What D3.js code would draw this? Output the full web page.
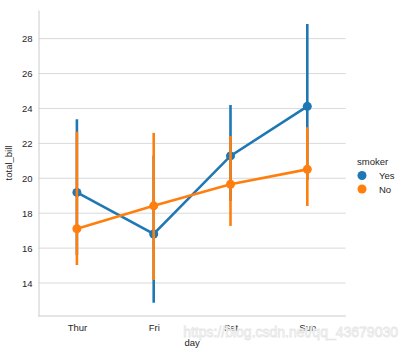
<!DOCTYPE html>
<html>
<head>
<meta charset="utf-8">
<script src="https://cdn.jsdelivr.net/npm/d3@7"></script>
<style>
body { margin: 0; background: #fff; }
text { font-family: "Liberation Sans", Arial, sans-serif; fill: #262626; }
</style>
</head>
<body>
<svg id="chart" width="405" height="352"></svg>
<script>
// data
var days = ["Thur", "Fri", "Sat", "Sun"];
var smokers = ["Yes", "No"];
var meanYes = [19.19, 16.81, 21.28, 24.12];
var meanNo = [17.11, 18.42, 19.66, 20.51];
var lowYes = [15.6, 12.87, 18.7, 19.9];
var highYes = [23.38, 21.3, 24.2, 28.84];
var lowNo = [15.03, 14.17, 17.27, 18.41];
var highNo = [22.67, 22.6, 22.42, 22.92];
var yTicks = [14, 16, 18, 20, 22, 24, 26, 28];

var colors = ["#1f77b4", "#ff7f0e"];
var series = [
    {name: "Yes", mean: meanYes, low: lowYes, high: highYes},
    {name: "No", mean: meanNo, low: lowNo, high: highNo}
];

var svg = d3.select("#chart");
var area = {left: 38.5, right: 345.7, top: 10, bottom: 316};

var xScale = d3.scalePoint()
    .domain(days)
    .range([area.left, area.right])
    .padding(0.5);

var yScale = d3.scaleLinear()
    .domain([12.11, 29.64])
    .range([area.bottom, area.top]);

// grid lines
svg.append("g")
    .selectAll("line")
    .data(yTicks)
    .enter()
    .append("line")
    .attr("x1", area.left)
    .attr("x2", area.right)
    .attr("y1", function (d) { return yScale(d); })
    .attr("y2", function (d) { return yScale(d); })
    .attr("stroke", "#d9d9d9")
    .attr("stroke-width", 1);

// axes
var yAxis = svg.append("g")
    .attr("transform", "translate(" + area.left + ",0)")
    .call(d3.axisLeft(yScale).tickValues(yTicks).tickSize(0).tickPadding(6));
yAxis.select(".domain").attr("stroke", "#cccccc");
yAxis.selectAll("text").style("font-size", "9.5px").attr("fill", "#262626");

var xAxis = svg.append("g")
    .attr("transform", "translate(0," + area.bottom + ")")
    .call(d3.axisBottom(xScale).tickSize(0).tickPadding(8));
xAxis.select(".domain").attr("stroke", "#cccccc").attr("d", "M" + area.left + ",0H" + area.right);
xAxis.selectAll("text").style("font-size", "9.5px").attr("fill", "#262626");

svg.append("text")
    .attr("transform", "translate(12," + ((area.top + area.bottom) / 2) + ") rotate(-90)")
    .attr("text-anchor", "middle")
    .style("font-size", "9.5px")
    .text("total_bill");

svg.append("text")
    .attr("x", (area.left + area.right) / 2)
    .attr("y", 346)
    .attr("text-anchor", "middle")
    .style("font-size", "9.5px")
    .text("day");

// series
var line = d3.line()
    .x(function (d, i) { return xScale(days[i]); })
    .y(function (d) { return yScale(d); });

series.forEach(function (s, k) {
    var g = svg.append("g");
    g.append("path")
        .attr("d", line(s.mean))
        .attr("fill", "none")
        .attr("stroke", colors[k])
        .attr("stroke-width", 2.6);
    g.selectAll("line.ci")
        .data(days)
        .enter()
        .append("line")
        .attr("class", "ci")
        .attr("x1", function (d) { return xScale(d); })
        .attr("x2", function (d) { return xScale(d); })
        .attr("y1", function (d, i) { return yScale(s.low[i]); })
        .attr("y2", function (d, i) { return yScale(s.high[i]); })
        .attr("stroke", colors[k])
        .attr("stroke-width", 2.6);
    g.selectAll("circle")
        .data(s.mean)
        .enter()
        .append("circle")
        .attr("cx", function (d, i) { return xScale(days[i]); })
        .attr("cy", function (d) { return yScale(d); })
        .attr("r", 4.5)
        .attr("fill", colors[k]);
});

// legend
var legend = svg.append("g").attr("transform", "translate(357,0)");
legend.append("text")
    .attr("x", 0)
    .attr("y", 165)
    .style("font-size", "9.5px")
    .text("smoker");
smokers.forEach(function (name, k) {
    legend.append("circle")
        .attr("cx", 5)
        .attr("cy", 175.5 + k * 13.5)
        .attr("r", 4.5)
        .attr("fill", colors[k]);
    legend.append("text")
        .attr("x", 22)
        .attr("y", 179 + k * 13.5)
        .style("font-size", "9.5px")
        .text(name);
});

// watermark
svg.append("text")
    .attr("x", 398)
    .attr("y", 337)
    .attr("text-anchor", "end")
    .style("font-size", "14px")
    .style("fill", "#ffffff")
    .style("stroke", "#e6e6e6")
    .style("stroke-width", 0.8)
    .text("https://blog.csdn.net/qq_43679030");
</script>
</body>
</html>
